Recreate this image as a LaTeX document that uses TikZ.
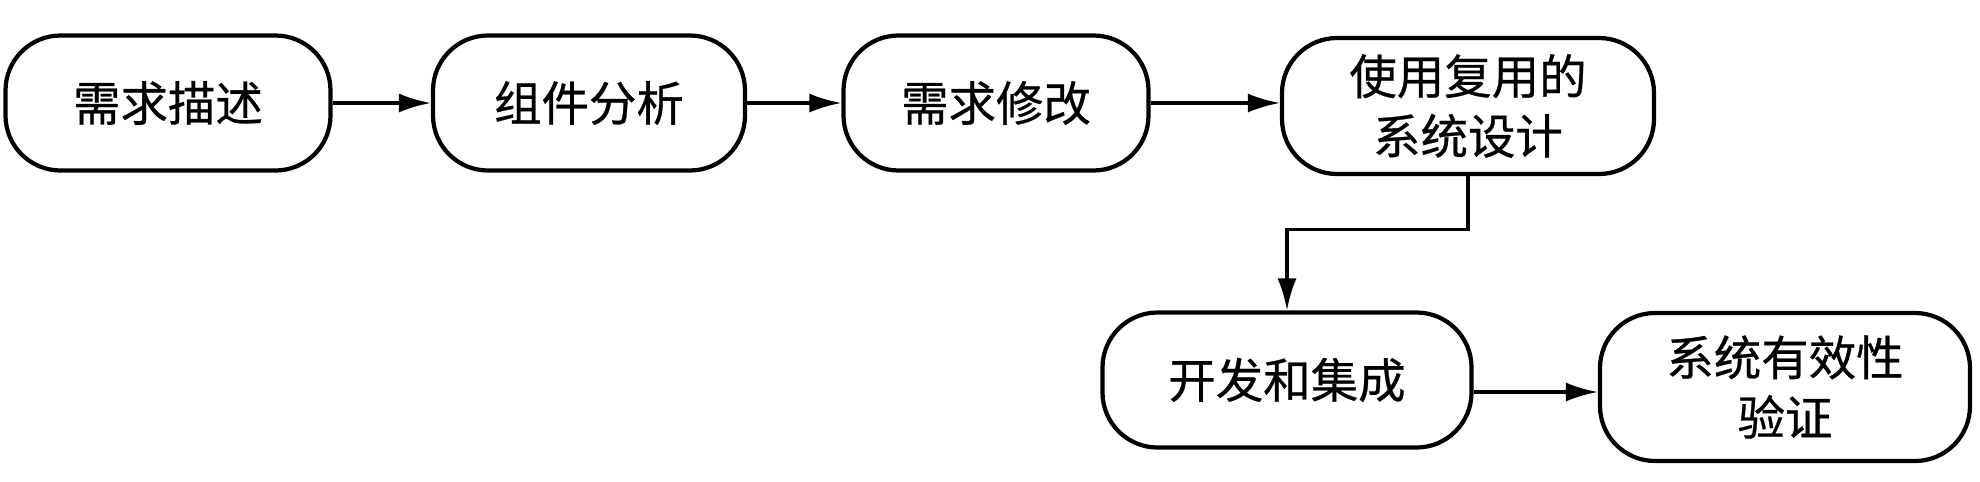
\documentclass[tikz,border=0pt]{standalone}
\usepackage{fontspec}
\setmainfont{Noto Sans CJK SC}
\newfontfamily\stagefont{Noto Sans CJK SC}[FakeBold=0.6]
\usepackage{tikz}
\usetikzlibrary{arrows.meta, positioning}

\begin{document}
\begin{tikzpicture}
  \useasboundingbox (0, 0) rectangle (19.8, 4.81);
  \tikzset{
    stage/.style={draw, line width=1.2pt, rounded corners=0.55cm, minimum height=1.35cm, align=center, font=\stagefont\fontsize{13.5}{17}\selectfont},
    flow/.style={-{Latex[length=3.2mm, width=1.9mm]}, line width=0.9pt}
  }

  % Top row
  \node[stage, minimum width=3.25cm] (req) at (1.68, 3.78) {需求描述};
  \node[stage, minimum width=3.12cm] (comp) at (5.89, 3.78) {组件分析};
  \node[stage, minimum width=3.05cm] (mod) at (9.96, 3.78) {需求修改};
  \node[stage, minimum width=3.72cm, minimum height=1.36cm] (design) at (14.68, 3.75) {使用复用的\\系统设计};

  % Bottom row
  \node[stage, minimum width=3.69cm] (dev) at (12.87, 1.01) {开发和集成};
  \node[stage, minimum width=3.70cm, minimum height=1.48cm] (valid) at (17.85, 0.94) {系统有效性\\验证};

  % Arrows
  \draw[flow] (req) -- (comp);
  \draw[flow] (comp) -- (mod);
  \draw[flow] (mod.east) -- (mod.east -| design.west);
  \draw[flow] (design.south) -- ++(0, -0.53) -| (dev.north);
  \draw[flow] ([yshift=-0.12cm]dev.east) -- ([yshift=-0.12cm]dev.east -| valid.west);
\end{tikzpicture}
\end{document}
